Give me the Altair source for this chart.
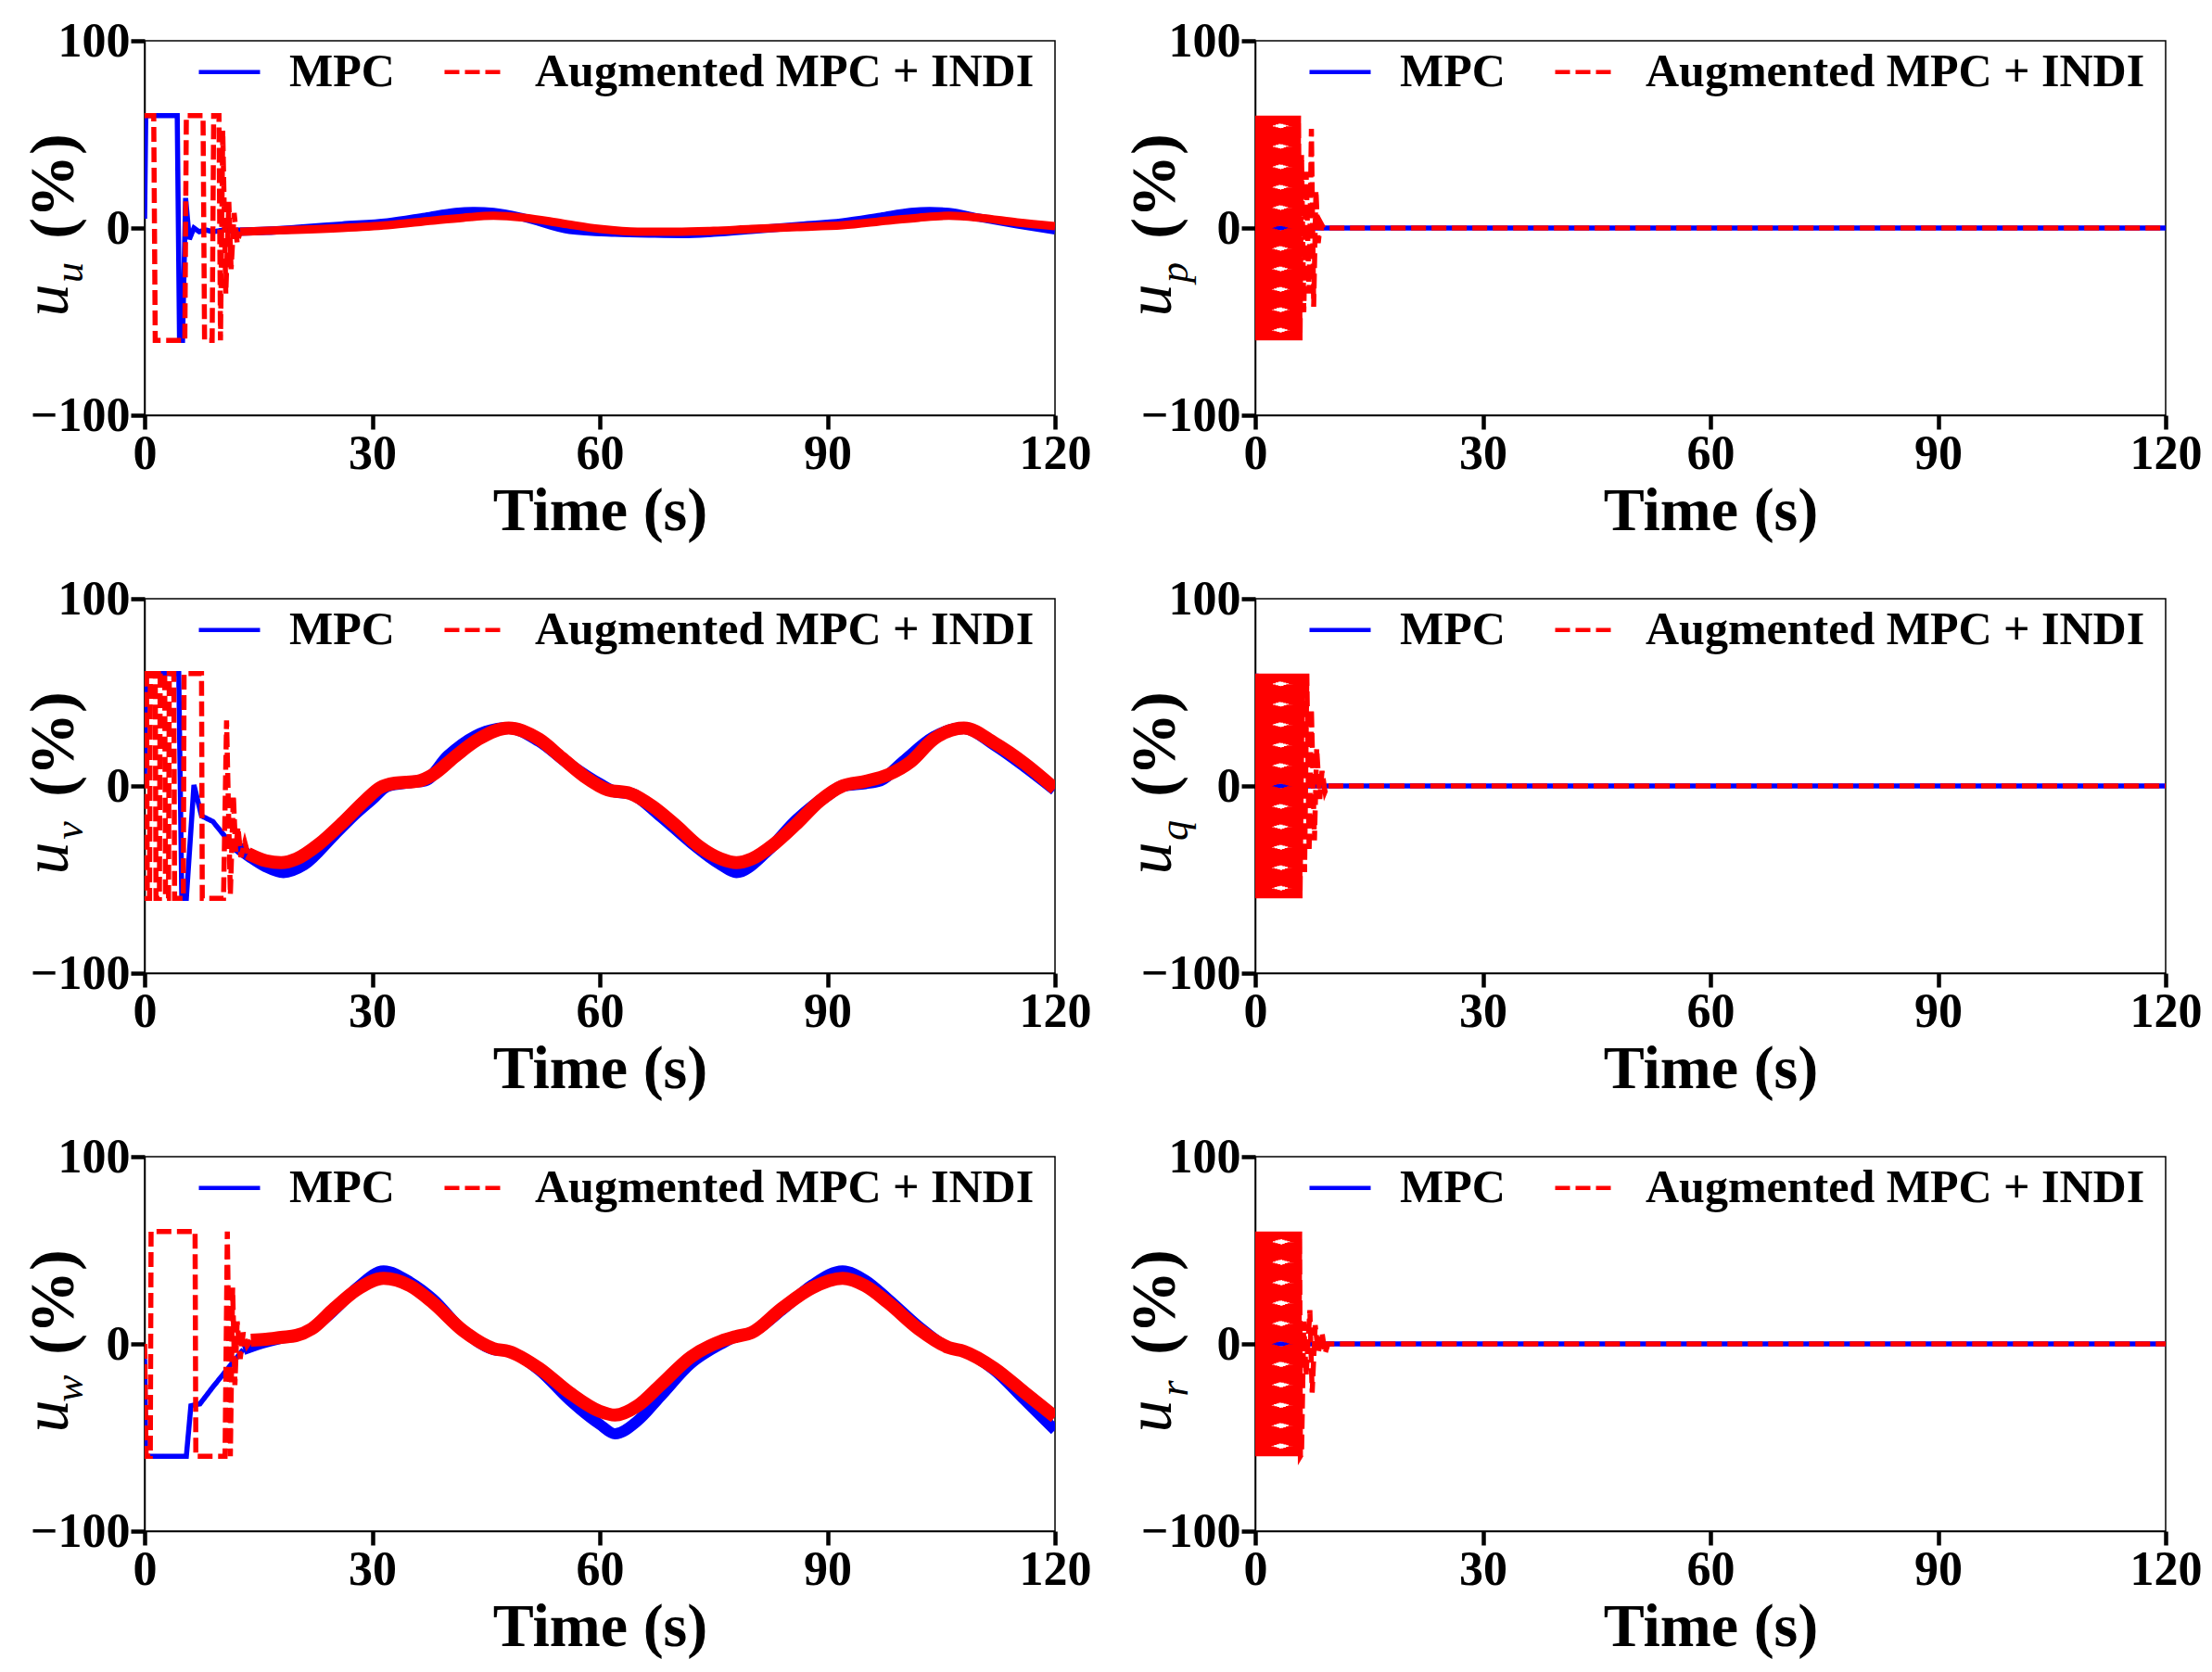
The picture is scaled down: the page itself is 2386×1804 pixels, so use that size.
import altair as alt
import pandas as pd

BLUE = "#0000FF"
RED = "#FF0000"
FONT = "Liberation Serif"
SERIES = ["MPC", "Augmented MPC + INDI"]
X_TICKS = [0, 30, 60, 90, 120]
Y_TICKS = [-100, 0, 100]

# ---- u_u : transient (thin) and steady (band) parts ----
UU_MPC_TR_T = [0, 0.15, 4.3, 4.6, 5.0, 5.4, 5.9, 6.5, 7.2, 8.0, 9.0, 10.5, 12.0]
UU_MPC_TR_V = [5, 60, 60, -60, -60, 16, -6, 0, -2, -1, -2, -1, -2]
UU_MPC_BD_T = [12, 16, 20, 26, 32, 37, 41, 43.5, 46, 50, 56, 62, 67, 71, 75, 80, 86, 92, 97, 101, 103.5, 106, 110, 115, 120]
UU_MPC_BD_V = [-2, -1.5, -0.5, 1.3, 3, 6, 8.5, 9, 8.5, 5.5, -1, -2.5, -3, -3.2, -2.5, -1, 1, 3, 6, 8.5, 9, 8.5, 5.5, 2, -1.3]
UU_AUG_TR_T = [0, 1.2, 1.4, 5.3, 5.5, 7.7, 7.9, 8.9, 9.1, 9.8, 10.0, 10.3, 10.7, 11.1, 11.4, 11.8, 12.2, 12.6]
UU_AUG_TR_V = [60, 60, -60, -60, 60, 60, -60, -60, 60, 60, -60, 52, -35, 14, -22, 8, -8, -2]
UU_AUG_BD_T = [12.6, 16, 20, 26, 32, 38, 42, 46, 50, 55, 60, 65, 70, 75, 80, 86, 92, 98, 102, 106, 110, 115, 120]
UU_AUG_BD_V = [-2, -1.5, -1, 0, 1.5, 4, 5.5, 6.5, 5.5, 2.5, -0.5, -2, -2, -1.5, -0.5, 0.5, 1.5, 4, 5.5, 6.5, 5.5, 3, 1]

# ---- u_v ----
UV_MPC_TR_T = [0, 0.2, 4.5, 4.9, 5.5, 6.5, 7.5, 9.0, 10.6, 12.0]
UV_MPC_TR_V = [5, 60, 60, -60, -60, 0.5, -16, -19, -27, -32]
UV_MPC_BD_T = [12, 14, 16, 18.3, 21, 25, 28, 30, 32, 35, 37, 40, 45, 48, 52, 56, 60, 62, 64, 68,
               72, 76, 78, 82, 86, 90, 92, 95, 97, 100, 104, 108, 112, 116, 120]
UV_MPC_BD_V = [-32, -38, -43, -46, -42, -26, -14, -7, 0, 2, 3, 16, 29, 31, 24, 11.5, 1, -3, -4, -16,
               -30, -42, -46, -35, -18, -5, 0, 1.5, 3, 13, 26, 31, 22, 10.5, -2]
UV_AUG_TR_T = [0, 0.25, 0.35, 0.65, 0.75, 1.4, 1.5, 1.95, 2.05, 2.65, 2.75, 3.15, 3.25, 3.85,
               3.95, 5.1, 5.2, 7.5, 7.6, 10.4, 10.8, 11.3, 11.7, 12.0, 12.3, 12.7, 13.2, 13.6]
UV_AUG_TR_V = [60, 60, -60, -60, 60, 60, -60, -60, 60, 60, -60, -60, 60, 60,
               -60, -60, 60, 60, -60, -60, 35, -58, -5, -35, -22, -38, -30, -36]
UV_AUG_BD_T = [13.6, 16, 18, 20, 23, 26, 29, 31, 33, 36, 38, 41, 44, 48, 52, 55, 58, 61, 64, 67,
               70, 73, 76, 78, 80, 83, 86, 89, 92, 95, 98, 101, 104, 108, 112, 116, 120]
UV_AUG_BD_V = [-36, -40, -41, -39, -31, -20, -8, -1, 1.5, 2.5, 6, 16, 25, 31, 25, 15, 5, -2, -4, -11,
               -21, -32, -39, -41, -39, -31, -20, -8, 0, 2.5, 6, 13, 25, 31, 23, 12, -1.5]

# ---- u_w ----
UW_MPC_TR_T = [0, 0.15, 5.5, 6.1, 7.3, 9.0, 10.6, 12.0, 13.0]
UW_MPC_TR_V = [-8, -60, -60, -33, -32, -23, -15, -8, -3]
UW_MPC_BD_T = [13, 16, 18, 20, 22, 25, 28, 31.5, 35, 38, 42, 46, 48, 52, 56, 60, 62, 65, 68, 72,
               76, 78, 80, 84, 88, 92, 95, 98, 102, 106, 108, 112, 116, 120]
UW_MPC_BD_V = [-3, 1, 3, 4.5, 8, 18, 30, 39, 33, 24, 7, -3, -4, -14, -30, -43, -48, -41, -28, -10.5,
               0, 4, 6, 18, 31.5, 39, 34, 24, 9.5, -2, -4, -14, -30, -46]
UW_AUG_TR_T = [0, 0.2, 0.75, 0.85, 6.65, 6.75, 10.6, 10.9, 11.3, 11.6, 11.9, 12.2, 12.6, 13.0, 13.5, 14.0]
UW_AUG_TR_V = [0, -60, -60, 60, 60, -60, -60, 60, -60, 30, -22, 12, -8, 6, -1, 2]
UW_AUG_BD_T = [14, 16, 18, 20, 22, 25, 28, 31.5, 35, 38, 42, 46, 48, 52, 56, 60, 62, 65, 68, 72,
               76, 78, 80, 84, 88, 92, 95, 98, 102, 106, 108, 112, 116, 120]
UW_AUG_BD_V = [2, 2.5, 3.5, 4.5, 8, 19, 29, 35, 31, 22, 7, -2.5, -4, -13, -26, -36, -38, -33, -22, -7,
               1.5, 4, 6, 19, 30, 35, 31, 22, 8, -2, -4, -13, -26, -39]

# ---- u_p ----
UP_MPC_T = [0, 0.1, 0.2, 0.3, 120]
UP_MPC_V = [0, 55, -53, 0, 0]
UP_AUG_T = [0, 0.15, 0.3, 0.5, 0.65, 0.8, 1.0, 1.15, 1.3, 1.5, 1.65, 1.85, 2.0, 2.15, 2.35, 2.5,
            2.7, 2.85, 3.0, 3.2, 3.35, 3.5, 3.7, 3.85, 4.05, 4.2, 4.35, 4.55, 4.7, 4.9, 5.05, 5.2,
            5.4, 5.55, 5.7, 5.9, 6.1, 6.4, 6.7, 7.1, 7.4, 7.7, 8.0, 8.3, 8.6, 9.0, 120]
UP_AUG_V = [60, -60, 60, -60, 60, -60, 60, -60, 60, -60, 60, -60, 60, -60, 60, -60,
            60, -60, 60, -60, 60, -60, 60, -60, 60, -60, 60, -60, 60, -60, 60, -60,
            60, -60, 60, -60, 39, -45, 30, -35, 53, -42, 20, -8, 3, 0, 0]

# ---- u_q ----
UQ_MPC_T = [0, 0.1, 0.3, 0.5, 0.7, 120]
UQ_MPC_V = [0, 60, -45, 30, 0, 0]
UQ_AUG_T = [0, 0.18, 0.33, 0.5, 0.68, 0.85, 1.0, 1.2, 1.35, 1.5, 1.7, 1.85, 2.0, 2.2, 2.35, 2.55,
            2.7, 2.9, 3.05, 3.2, 3.4, 3.55, 3.75, 3.9, 4.05, 4.25, 4.4, 4.6, 4.75, 4.9, 5.1, 5.25,
            5.45, 5.6, 5.75, 5.9, 6.2, 6.5, 6.8, 7.1, 7.4, 7.8, 8.1, 8.5, 8.8, 9.2, 9.5, 120]
UQ_AUG_V = [60, -60, 60, -60, 60, -60, 60, -60, 60, -60, 60, -60, 60, -60, 60, -60,
            60, -60, 60, -60, 60, -60, 60, -60, 60, -60, 60, -60, 60, -60, 60, -60,
            60, -60, 60, -60, 60, -46, 60, -35, 41, -29, 20, -7, 8, -3, 0, 0]

# ---- u_r ----
UR_MPC_T = [0, 0.1, 0.25, 0.4, 120]
UR_MPC_V = [0, 22, -54, 0, 0]
UR_AUG_T = [0, 0.15, 0.32, 0.48, 0.65, 0.8, 0.98, 1.15, 1.3, 1.48, 1.65, 1.8, 1.98, 2.15, 2.3, 2.5,
            2.65, 2.8, 3.0, 3.15, 3.55, 3.7, 3.9, 4.05, 4.2, 4.4, 4.55, 4.7, 4.9, 5.05, 5.2, 5.4,
            5.55, 5.7, 5.85, 5.95, 6.1, 6.4, 6.7, 7.2, 7.5, 7.9, 8.3, 8.8, 9.2, 9.6, 120]
UR_AUG_V = [60, -60, 60, -60, 60, -60, 60, -60, 60, -60, 60, -60, 60, -60, 60, -60,
            60, -60, 60, -60, 60, -60, 60, -60, 60, -60, 60, -60, 60, -60, 60, -60,
            60, -60, 60, -60, -59, 12, -17, 18, -26, 10, -5, 6, -5, 0, 0]


def frame(t, v, series):
    return pd.DataFrame({"t": t, "v": v, "s": series, "i": list(range(len(t)))})


LEGEND = alt.Legend(
    orient="none", legendX=56, legendY=-2, direction="horizontal", title=None,
    symbolType="stroke", symbolSize=4356, symbolStrokeWidth=4.7,
    labelFont=FONT, labelFontSize=50, labelFontWeight="bold", labelColor="black",
    labelOffset=29, columnPadding=44, padding=0, labelLimit=0,
)

X_ENC = alt.X("t:Q", scale=alt.Scale(domain=[0, 120], nice=False, zero=False),
              axis=alt.Axis(values=X_TICKS, title="Time (s)"))
Y_ENC = alt.Y("v:Q", scale=alt.Scale(domain=[-100, 100], nice=False),
              axis=alt.Axis(values=Y_TICKS, title=None))


def thin_layer(df):
    return alt.Chart(df).mark_line(strokeWidth=5.5, strokeJoin="miter", clip=True).encode(
        x=X_ENC, y=Y_ENC,
        color=alt.Color("s:N", scale=alt.Scale(domain=SERIES, range=[BLUE, RED]), legend=LEGEND),
        strokeDash=alt.StrokeDash("s:N", scale=alt.Scale(domain=SERIES, range=[[1, 0], [16, 6]]),
                                  legend=LEGEND),
        order=alt.Order("i:Q"),
    )


def band_layer(df, colour, width):
    return alt.Chart(df).mark_line(strokeWidth=width, color=colour, interpolate="monotone",
                                   clip=True).encode(
        x=X_ENC, y=Y_ENC, order=alt.Order("i:Q"))


def ylabel_layers(sub, col):
    base = -83 if col == 0 else -91
    pct = -77 if col == 0 else -87
    sub_x = -67 if col == 0 else -73
    u = alt.Chart(pd.DataFrame({"s": ["u"]})).mark_text(
        angle=270, align="center", baseline="alphabetic", font=FONT, fontSize=70,
        fontStyle="italic", color="black").encode(text="s:N", x=alt.value(base), y=alt.value(280))
    s = alt.Chart(pd.DataFrame({"s": [sub]})).mark_text(
        angle=270, align="center", baseline="alphabetic", font=FONT, fontSize=44,
        fontStyle="italic", color="black").encode(text="s:N", x=alt.value(sub_x), y=alt.value(250))
    p = alt.Chart(pd.DataFrame({"s": ["(%)"]})).mark_text(
        angle=270, align="center", baseline="alphabetic", font=FONT, fontSize=68,
        fontWeight="bold", color="black").encode(text="s:N", x=alt.value(pct), y=alt.value(157))
    return [u, s, p]


def left_panel(sub, mtr, mbd, atr, abd, wb, wr):
    layers = [
        band_layer(frame(*mbd, SERIES[0]), BLUE, wb),
        thin_layer(frame(*mtr, SERIES[0])),
        band_layer(frame(*abd, SERIES[1]), RED, wr),
        thin_layer(frame(*atr, SERIES[1])),
    ] + ylabel_layers(sub, 0)
    return alt.layer(*layers).properties(width=982, height=404)


def right_panel(sub, m, a):
    layers = [
        thin_layer(frame(*m, SERIES[0])),
        thin_layer(frame(*a, SERIES[1])),
    ] + ylabel_layers(sub, 1)
    return alt.layer(*layers).properties(width=982, height=404)


p_u = left_panel("u", (UU_MPC_TR_T, UU_MPC_TR_V), (UU_MPC_BD_T, UU_MPC_BD_V),
                 (UU_AUG_TR_T, UU_AUG_TR_V), (UU_AUG_BD_T, UU_AUG_BD_V), 9, 9)
p_v = left_panel("v", (UV_MPC_TR_T, UV_MPC_TR_V), (UV_MPC_BD_T, UV_MPC_BD_V),
                 (UV_AUG_TR_T, UV_AUG_TR_V), (UV_AUG_BD_T, UV_AUG_BD_V), 13, 14)
p_w = left_panel("w", (UW_MPC_TR_T, UW_MPC_TR_V), (UW_MPC_BD_T, UW_MPC_BD_V),
                 (UW_AUG_TR_T, UW_AUG_TR_V), (UW_AUG_BD_T, UW_AUG_BD_V), 12, 14)
p_p = right_panel("p", (UP_MPC_T, UP_MPC_V), (UP_AUG_T, UP_AUG_V))
p_q = right_panel("q", (UQ_MPC_T, UQ_MPC_V), (UQ_AUG_T, UQ_AUG_V))
p_r = right_panel("r", (UR_MPC_T, UR_MPC_V), (UR_AUG_T, UR_AUG_V))

chart = alt.concat(
    p_u, p_p, p_v, p_q, p_w, p_r,
    columns=2, spacing={"row": 198, "column": 216}, bounds="flush",
).resolve_scale(
    color="independent", strokeDash="independent"
).properties(
    padding={"left": 8, "top": 9, "right": 0, "bottom": 8}
).configure_view(
    stroke="black", strokeWidth=1.5
).configure_axis(
    grid=False, domainColor="black", domainWidth=1.5,
    tickColor="black", tickWidth=4.5, tickSize=15,
    labelFont=FONT, labelFontSize=52, labelFontWeight="bold", labelColor="black",
    labelPadding=1, labelFlush=False, labelOverlap=False,
    titleFont=FONT, titleFontSize=66, titleFontWeight="bold", titleColor="black",
    titlePadding=4,
)

chart.save("out.html", embed_options={"renderer": "svg", "actions": False})
